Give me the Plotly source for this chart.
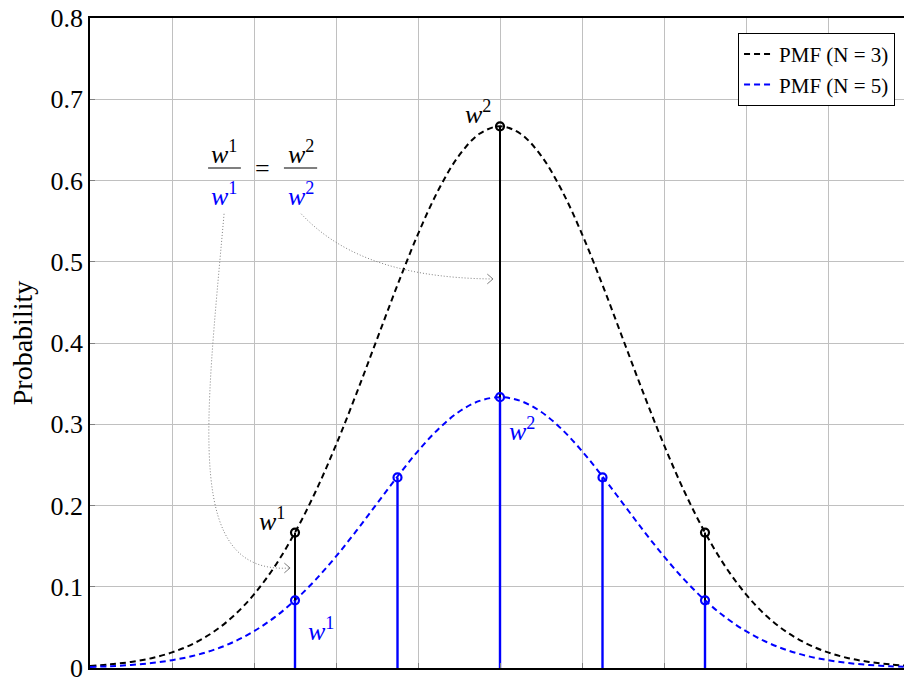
import plotly.graph_objects as go

# Sample grid for the smooth PMF envelopes
XS = [-1.00, -0.95, -0.90, -0.85, -0.80, -0.75, -0.70, -0.65, -0.60, -0.55,
      -0.50, -0.45, -0.40, -0.35, -0.30, -0.25, -0.20, -0.15, -0.10, -0.05,
      0.00, 0.05, 0.10, 0.15, 0.20, 0.25, 0.30, 0.35, 0.40, 0.45,
      0.50, 0.55, 0.60, 0.65, 0.70, 0.75, 0.80, 0.85, 0.90, 0.95, 1.00]

CURVE_N3 = [0.0026, 0.0045, 0.0075, 0.0121, 0.0192, 0.0295, 0.0440, 0.0640, 0.0906, 0.1246,
            0.1667, 0.2169, 0.2745, 0.3380, 0.4047, 0.4714, 0.5341, 0.5885, 0.6307, 0.6575,
            0.6667, 0.6575, 0.6307, 0.5885, 0.5341, 0.4714, 0.4047, 0.3380, 0.2745, 0.2169,
            0.1667, 0.1246, 0.0906, 0.0640, 0.0440, 0.0295, 0.0192, 0.0121, 0.0075, 0.0045, 0.0026]

CURVE_N5 = [0.0013, 0.0022, 0.0037, 0.0061, 0.0096, 0.0147, 0.0220, 0.0320, 0.0453, 0.0623,
            0.0833, 0.1085, 0.1373, 0.1690, 0.2024, 0.2357, 0.2670, 0.2942, 0.3154, 0.3287,
            0.3333, 0.3287, 0.3154, 0.2942, 0.2670, 0.2357, 0.2024, 0.1690, 0.1373, 0.1085,
            0.0833, 0.0623, 0.0453, 0.0320, 0.0220, 0.0147, 0.0096, 0.0061, 0.0037, 0.0022, 0.0013]

# Discrete weights
NODES_N3 = [-0.5, 0.0, 0.5]
WEIGHTS_N3 = [0.1667, 0.6667, 0.1667]
NODES_N5 = [-0.5, -0.25, 0.0, 0.25, 0.5]
WEIGHTS_N5 = [0.0833, 0.2345, 0.3333, 0.2345, 0.0833]

Y_TICKS = [0, 0.1, 0.2, 0.3, 0.4, 0.5, 0.6, 0.7, 0.8]
Y_TICK_LABELS = ["0", "0.1", "0.2", "0.3", "0.4", "0.5", "0.6", "0.7", "0.8"]

LEGEND_N3 = "PMF (N = 3)"
LEGEND_N5 = "PMF (N = 5)"

BLUE = "#0000ff"
GRAY = "#808080"
FONT = "'Liberation Serif', 'Times New Roman', 'DejaVu Serif', serif"
DASH = "6px,4px"


def stem_coords(xs, ys):
    sx, sy = [], []
    for x, y in zip(xs, ys):
        sx += [x, x, None]
        sy += [0, y, None]
    return sx, sy


fig = go.Figure()

fig.add_trace(go.Scatter(x=XS, y=CURVE_N3, mode="lines", name=LEGEND_N3,
                         line=dict(color="black", width=2, dash=DASH, shape="spline")))
fig.add_trace(go.Scatter(x=XS, y=CURVE_N5, mode="lines", name=LEGEND_N5,
                         line=dict(color=BLUE, width=2, dash=DASH, shape="spline")))

sx, sy = stem_coords(NODES_N3, WEIGHTS_N3)
fig.add_trace(go.Scatter(x=sx, y=sy, mode="lines", showlegend=False,
                         line=dict(color="black", width=2)))
sx, sy = stem_coords(NODES_N5, WEIGHTS_N5)
fig.add_trace(go.Scatter(x=sx, y=sy, mode="lines", showlegend=False,
                         line=dict(color=BLUE, width=2.4)))

fig.add_trace(go.Scatter(x=NODES_N3, y=WEIGHTS_N3, mode="markers", showlegend=False,
                         marker=dict(symbol="circle-open", size=8, color="black",
                                     line=dict(width=2.2, color="black"))))
fig.add_trace(go.Scatter(x=NODES_N5, y=WEIGHTS_N5, mode="markers", showlegend=False,
                         marker=dict(symbol="circle-open", size=8, color=BLUE,
                                     line=dict(width=2.2, color=BLUE))))

W1 = "<i>w</i><sup>1</sup>"
W2 = "<i>w</i><sup>2</sup>"


def label(x, y, text, color="black", size=26):
    fig.add_annotation(x=x, y=y, text=text, showarrow=False, xanchor="center",
                       yanchor="middle", font=dict(family=FONT, size=size, color=color))


# weight labels next to the stems
label(-0.054, 0.684, W2)
label(-0.556, 0.183, W1)
label(-0.437, 0.048, W1, BLUE)
label(0.054, 0.294, W2, BLUE)

# ratio identity
label(-0.673, 0.635, W1)
label(-0.673, 0.583, W1, BLUE)
label(-0.580, 0.615, "=")
label(-0.485, 0.635, W2)
label(-0.485, 0.583, W2, BLUE)
for x0, x1 in [(-0.712, -0.632), (-0.527, -0.446)]:
    fig.add_shape(type="line", x0=x0, x1=x1, y0=0.6154, y1=0.6154,
                  line=dict(color="black", width=1.2))

# dotted pointers from the ratio to the stems
pointers = [
    ((-0.673, 0.559), (-0.7195, 0.293), (-0.768, 0.1145), (-0.512, 0.1231)),
    ((-0.485, 0.559), (-0.402, 0.5145), (-0.268, 0.480), (-0.017, 0.4788)),
]
for p0, p1, p2, p3 in pointers:
    fig.add_shape(type="path", xref="x", yref="y",
                  path=f"M {p0[0]} {p0[1]} C {p1[0]} {p1[1]}, {p2[0]} {p2[1]}, {p3[0]} {p3[1]}",
                  line=dict(color=GRAY, width=1, dash="1px,2px"))
    tx, ty = p3
    fig.add_shape(type="path", xref="x", yref="y",
                  path=f"M {tx - 0.014} {ty + 0.006} L {tx} {ty} L {tx - 0.014} {ty - 0.006}",
                  line=dict(color=GRAY, width=1))

fig.update_layout(
    width=904, height=677,
    margin=dict(l=90, r=0, t=18, b=9, autoexpand=False),
    paper_bgcolor="white", plot_bgcolor="white",
    font=dict(family=FONT, size=26, color="black"),
    showlegend=True,
    legend=dict(x=0.989, y=0.977, xanchor="right", yanchor="top",
                bgcolor="white", bordercolor="black", borderwidth=1,
                font=dict(family=FONT, size=21), itemwidth=30,
                tracegroupgap=0),
    xaxis=dict(range=[-1, 0.98537], tick0=-1, dtick=0.2, showticklabels=False,
               showgrid=True, gridcolor="#c0c0c0", gridwidth=1, zeroline=False,
               ticks="inside", ticklen=5, tickcolor="#808080", automargin=False,
               showline=True, linecolor="black", linewidth=1.5, mirror=True),
    yaxis=dict(range=[0, 0.8], tickvals=Y_TICKS, ticktext=Y_TICK_LABELS,
               showgrid=True, gridcolor="#c0c0c0", gridwidth=1, zeroline=False,
               ticks="inside", ticklen=5, tickcolor="#808080", automargin=False,
               tickfont=dict(family=FONT, size=26), ticklabeloverflow="allow",
               showline=True, linecolor="black", linewidth=1.5, mirror=False,
               title=dict(text="Probability", font=dict(family=FONT, size=28), standoff=10)),
)

fig.write_html("out.html")
